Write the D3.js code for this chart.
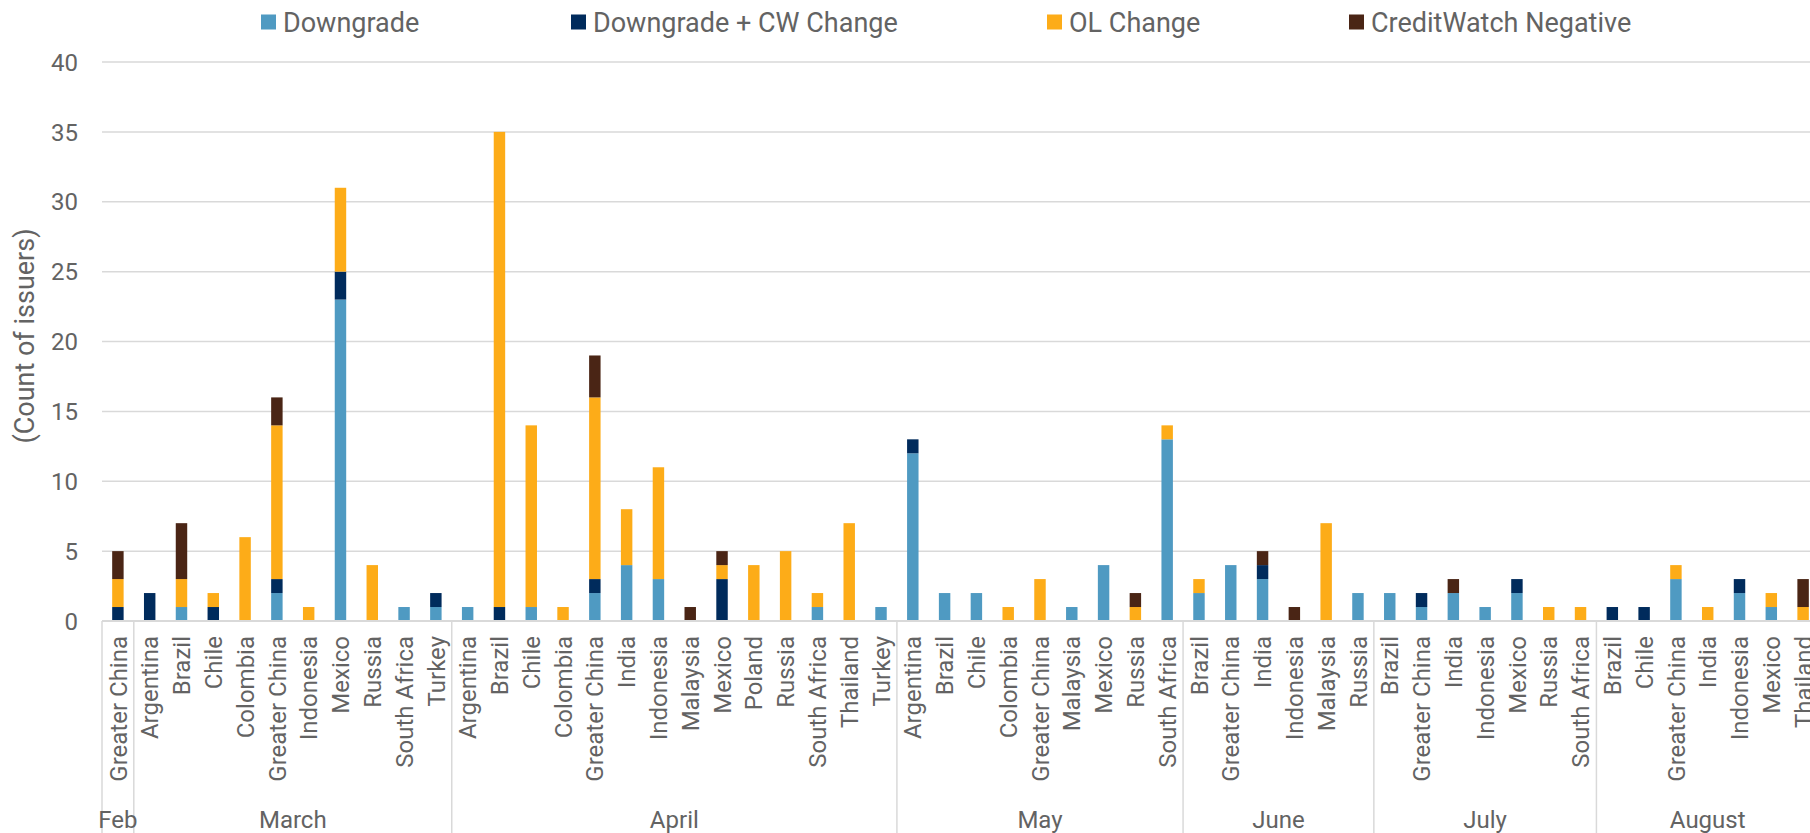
<html>
<script src='https://d3js.org/d3.v7.min.js'></script>
<style>
  body {margin: 0; background: white;}
  text {font-family: Roboto, "Noto Sans", sans-serif; fill: #636363;}
</style>
<body>
<svg width=1810 height=833></svg>
<script>
// month groups along the bottom
var months = ["Feb", "March", "April", "May", "June", "July", "August"]
var monthCounts = [1, 10, 14, 9, 6, 7, 7]

var countries = [
  "Greater China",
  "Argentina", "Brazil", "Chile", "Colombia", "Greater China", "Indonesia", "Mexico", "Russia", "South Africa", "Turkey",
  "Argentina", "Brazil", "Chile", "Colombia", "Greater China", "India", "Indonesia", "Malaysia", "Mexico", "Poland", "Russia", "South Africa", "Thailand", "Turkey",
  "Argentina", "Brazil", "Chile", "Colombia", "Greater China", "Malaysia", "Mexico", "Russia", "South Africa",
  "Brazil", "Greater China", "India", "Indonesia", "Malaysia", "Russia",
  "Brazil", "Greater China", "India", "Indonesia", "Mexico", "Russia", "South Africa",
  "Brazil", "Chile", "Greater China", "India", "Indonesia", "Mexico", "Thailand"
]

var downgrade   = [0, 0,1,0,0,2,0,23,0,1,1, 1,0,1,0,2,4,3,0,0,0,0,1,0,1, 12,2,2,0,0,1,4,0,13, 2,4,3,0,0,2, 2,1,2,1,2,0,0, 0,0,3,0,2,1,0]
var downgradeCW = [1, 2,0,1,0,1,0,2,0,0,1,  0,1,0,0,1,0,0,0,3,0,0,0,0,0, 1,0,0,0,0,0,0,0,0,  0,0,1,0,0,0, 0,1,0,0,1,0,0, 1,1,0,0,1,0,0]
var olChange    = [2, 0,2,1,6,11,1,6,4,0,0, 0,34,13,1,13,4,8,0,1,4,5,1,7,0, 0,0,0,1,3,0,0,1,1, 1,0,0,0,7,0, 0,0,0,0,0,1,1, 0,0,1,1,0,1,1]
var cwNegative  = [2, 0,4,0,0,2,0,0,0,0,0,  0,0,0,0,3,0,0,1,1,0,0,0,0,0, 0,0,0,0,0,0,0,1,0,  0,0,1,1,0,0, 0,0,1,0,0,0,0, 0,0,0,0,0,0,2]

var seriesNames = ["Downgrade", "Downgrade + CW Change", "OL Change", "CreditWatch Negative"]
var colors = ["#4f9ac2", "#002b5c", "#fdac18", "#4a2515"]
var yTicks = [0, 5, 10, 15, 20, 25, 30, 35, 40]

var rows = countries.map(function(c, i) {
  return {i: i, "Downgrade": downgrade[i], "Downgrade + CW Change": downgradeCW[i],
          "OL Change": olChange[i], "CreditWatch Negative": cwNegative[i]}
})

var plotLeft = 102, plotRight = 1819, plotTop = 62, plotBottom = 621

var x = d3.scaleBand().domain(d3.range(countries.length)).range([plotLeft, plotRight]).paddingInner(0.64).paddingOuter(0.32)
var step = x.step()
var y = d3.scaleLinear().domain([0, 40]).range([plotBottom, plotTop])

var svg = d3.select("svg")

// gridlines
svg.append("g").selectAll("line").data(yTicks).enter().append("line")
  .attr("x1", plotLeft).attr("x2", 1810)
  .attr("y1", function(d) { return y(d) }).attr("y2", function(d) { return y(d) })
  .style("stroke", "#d9d9d9").style("stroke-width", 1.5)

// y tick labels
svg.append("g").selectAll("text").data(yTicks).enter().append("text")
  .attr("x", 78).attr("y", function(d) { return y(d) })
  .attr("dy", "0.36em").attr("text-anchor", "end")
  .style("font-size", "24px").text(function(d) { return d })

svg.append("text")
  .attr("transform", "translate(34,336) rotate(-90)")
  .attr("text-anchor", "middle").style("font-size", "27px")
  .text("(Count of issuers)")

// stacked bars
var stack = d3.stack().keys(seriesNames)(rows)
svg.append("g").selectAll("g").data(stack).enter().append("g")
  .style("fill", function(d, i) { return colors[i] })
  .selectAll("rect").data(function(d) { return d }).enter().append("rect")
  .attr("x", function(d) { return x(d.data.i) })
  .attr("width", x.bandwidth())
  .attr("y", function(d) { return y(d[1]) })
  .attr("height", function(d) { return y(d[0]) - y(d[1]) })

// country labels
svg.append("g").selectAll("text").data(countries).enter().append("text")
  .attr("transform", function(d, i) { return "translate(" + (x(i) + x.bandwidth() / 2) + "," + (plotBottom + 15) + ") rotate(-90)" })
  .attr("dy", "0.36em").attr("text-anchor", "end")
  .style("font-size", "24px").text(function(d) { return d })

// month separators and labels
var starts = [0]
monthCounts.forEach(function(c, i) { starts.push(starts[i] + c) })
svg.append("g").selectAll("line").data(starts).enter().append("line")
  .attr("x1", function(d) { return plotLeft + d * step }).attr("x2", function(d) { return plotLeft + d * step })
  .attr("y1", plotBottom).attr("y2", 833)
  .style("stroke", "#d9d9d9").style("stroke-width", 1.5)

svg.append("g").selectAll("text").data(months).enter().append("text")
  .attr("x", function(d, i) { return plotLeft + (starts[i] + monthCounts[i] / 2) * step })
  .attr("y", 828).attr("text-anchor", "middle")
  .style("font-size", "24px").text(function(d) { return d })

// baseline
svg.append("line").attr("x1", plotLeft).attr("x2", 1810).attr("y1", plotBottom).attr("y2", plotBottom)
  .style("stroke", "#d9d9d9").style("stroke-width", 2)

// legend
var legendX = [261, 571, 1047, 1349]
var legend = svg.append("g").selectAll("g").data(seriesNames).enter().append("g")
  .attr("transform", function(d, i) { return "translate(" + legendX[i] + ",22)" })
legend.append("rect").attr("x", 0).attr("y", -7.5).attr("width", 15).attr("height", 15)
  .style("fill", function(d, i) { return colors[i] })
legend.append("text").attr("x", 22).attr("dy", "0.36em")
  .style("font-size", "27px").text(function(d) { return d })
</script>
</body>
</html>
